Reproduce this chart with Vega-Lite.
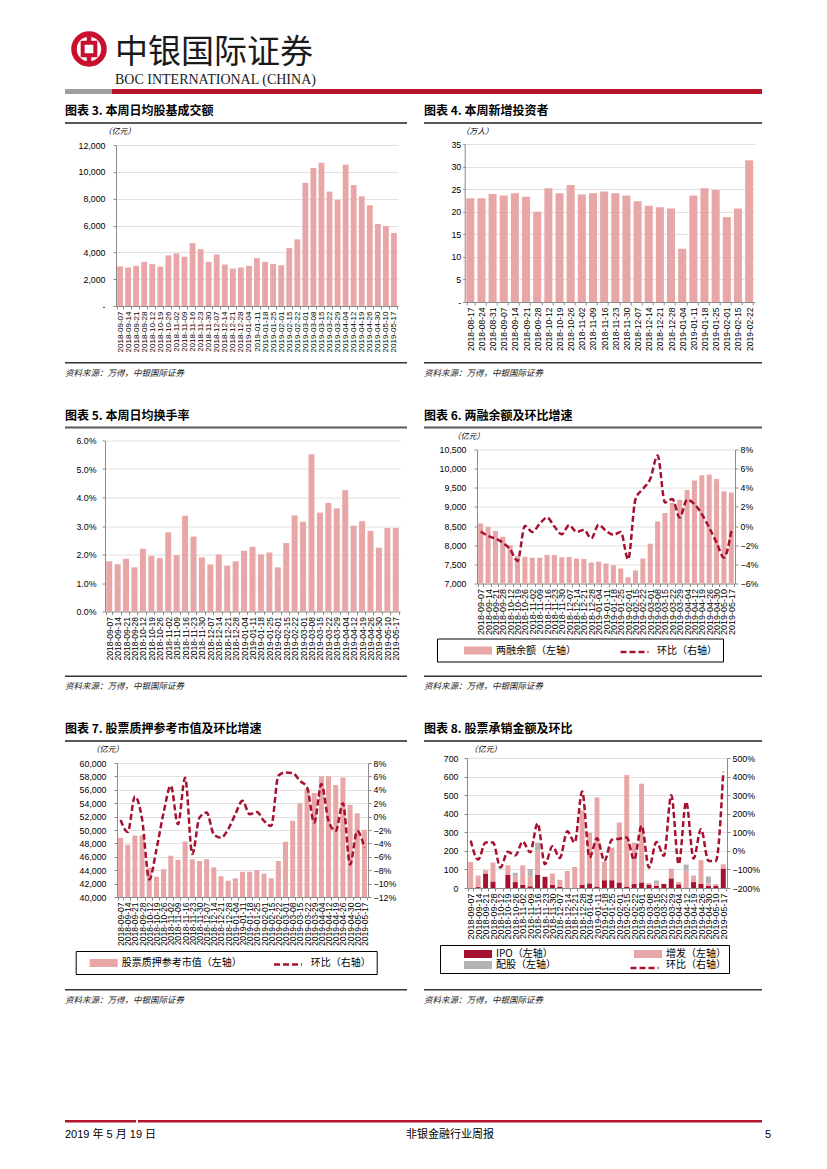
{
"$schema": "https://vega.github.io/schema/vega-lite/v6.json",
"background": "white",
"padding": {"left": 63, "top": 23, "right": 0, "bottom": 0},
"config": {
  "view": {"stroke": null},
  "font": "Liberation Sans",
  "axis": {"labelFont": "Liberation Sans", "labelColor": "#000", "domainColor": "#8c8c8c", "tickColor": "#8c8c8c", "gridColor": "#d9d9d9", "gridWidth": 0.8, "titleFont": "Noto Sans CJK SC", "titleFontWeight": "normal", "titleColor": "#000"}
},
"resolve": {"scale": {"color": "independent", "strokeDash": "independent"}, "legend": {"color": "independent", "strokeDash": "independent"}},
"datasets": {
  "sp": [{"s": 0, "e": 1}],
  "c3": [{"d":"2018-09-07","v":2950},{"d":"2018-09-14","v":2870},{"d":"2018-09-21","v":2990},{"d":"2018-09-28","v":3290},{"d":"2018-10-12","v":3120},{"d":"2018-10-19","v":2940},{"d":"2018-10-26","v":3770},{"d":"2018-11-02","v":3920},{"d":"2018-11-09","v":3670},{"d":"2018-11-16","v":4690},{"d":"2018-11-23","v":4240},{"d":"2018-11-30","v":3290},{"d":"2018-12-07","v":3840},{"d":"2018-12-14","v":3090},{"d":"2018-12-21","v":2790},{"d":"2018-12-28","v":2870},{"d":"2019-01-04","v":2990},{"d":"2019-01-11","v":3570},{"d":"2019-01-18","v":3290},{"d":"2019-01-25","v":3140},{"d":"2019-02-01","v":3040},{"d":"2019-02-15","v":4320},{"d":"2019-02-22","v":4970},{"d":"2019-03-01","v":9180},{"d":"2019-03-08","v":10280},{"d":"2019-03-15","v":10680},{"d":"2019-03-22","v":8530},{"d":"2019-03-29","v":7910},{"d":"2019-04-04","v":10530},{"d":"2019-04-12","v":9010},{"d":"2019-04-19","v":8180},{"d":"2019-04-26","v":7510},{"d":"2019-04-30","v":6110},{"d":"2019-05-10","v":5960},{"d":"2019-05-17","v":5440}],
  "c4": [{"d":"2018-08-17","v":23.0},{"d":"2018-08-24","v":23.0},{"d":"2018-08-31","v":23.9},{"d":"2018-09-07","v":23.6},{"d":"2018-09-14","v":24.1},{"d":"2018-09-21","v":23.3},{"d":"2018-09-28","v":20.0},{"d":"2018-10-12","v":25.2},{"d":"2018-10-19","v":24.1},{"d":"2018-10-26","v":25.9},{"d":"2018-11-02","v":23.8},{"d":"2018-11-09","v":24.1},{"d":"2018-11-16","v":24.5},{"d":"2018-11-23","v":24.1},{"d":"2018-11-30","v":23.6},{"d":"2018-12-07","v":22.3},{"d":"2018-12-14","v":21.3},{"d":"2018-12-21","v":21.0},{"d":"2018-12-28","v":20.7},{"d":"2019-01-04","v":11.8},{"d":"2019-01-11","v":23.6},{"d":"2019-01-18","v":25.2},{"d":"2019-01-25","v":24.8},{"d":"2019-02-01","v":18.8},{"d":"2019-02-15","v":20.7},{"d":"2019-02-22","v":31.4}],
  "c5": [{"d":"2018-09-07","v":0.0176},{"d":"2018-09-14","v":0.0166},{"d":"2018-09-21","v":0.0185},{"d":"2018-09-28","v":0.0155},{"d":"2018-10-12","v":0.022},{"d":"2018-10-19","v":0.0195},{"d":"2018-10-26","v":0.0187},{"d":"2018-11-02","v":0.0278},{"d":"2018-11-09","v":0.0198},{"d":"2018-11-16","v":0.0336},{"d":"2018-11-23","v":0.0263},{"d":"2018-11-30","v":0.019},{"d":"2018-12-07","v":0.0165},{"d":"2018-12-14","v":0.02},{"d":"2018-12-21","v":0.0161},{"d":"2018-12-28","v":0.0176},{"d":"2019-01-04","v":0.0213},{"d":"2019-01-11","v":0.0227},{"d":"2019-01-18","v":0.02},{"d":"2019-01-25","v":0.0207},{"d":"2019-02-01","v":0.0155},{"d":"2019-02-15","v":0.024},{"d":"2019-02-22","v":0.0337},{"d":"2019-03-01","v":0.0315},{"d":"2019-03-08","v":0.0552},{"d":"2019-03-15","v":0.0347},{"d":"2019-03-22","v":0.0381},{"d":"2019-03-29","v":0.0362},{"d":"2019-04-04","v":0.0426},{"d":"2019-04-12","v":0.0301},{"d":"2019-04-19","v":0.0317},{"d":"2019-04-26","v":0.0283},{"d":"2019-04-30","v":0.0224},{"d":"2019-05-10","v":0.0293},{"d":"2019-05-17","v":0.0293}],
  "c6": [{"d":"2018-09-07","bal":8570,"hb":-0.0057},{"d":"2018-09-14","bal":8480,"hb":-0.0103},{"d":"2018-09-21","bal":8370,"hb":-0.0131},{"d":"2018-09-28","bal":8220,"hb":-0.0173},{"d":"2018-10-12","bal":8000,"hb":-0.0243},{"d":"2018-10-19","bal":7710,"hb":-0.0365},{"d":"2018-10-26","bal":7700,"hb":0.0002},{"d":"2018-11-02","bal":7670,"hb":-0.0061},{"d":"2018-11-09","bal":7675,"hb":0.0023},{"d":"2018-11-16","bal":7745,"hb":0.009},{"d":"2018-11-23","bal":7745,"hb":-0.0005},{"d":"2018-11-30","bal":7685,"hb":-0.0086},{"d":"2018-12-07","bal":7690,"hb":0.0009},{"d":"2018-12-14","bal":7650,"hb":-0.0061},{"d":"2018-12-21","bal":7640,"hb":-0.004},{"d":"2018-12-28","bal":7550,"hb":-0.0128},{"d":"2019-01-04","bal":7570,"hb":0.0013},{"d":"2019-01-11","bal":7525,"hb":-0.005},{"d":"2019-01-18","bal":7475,"hb":-0.0092},{"d":"2019-01-25","bal":7395,"hb":-0.0061},{"d":"2019-02-01","bal":7160,"hb":-0.0348},{"d":"2019-02-15","bal":7340,"hb":0.0282},{"d":"2019-02-22","bal":7650,"hb":0.0387},{"d":"2019-03-01","bal":8035,"hb":0.0492},{"d":"2019-03-08","bal":8620,"hb":0.0737},{"d":"2019-03-15","bal":8840,"hb":0.0247},{"d":"2019-03-22","bal":9100,"hb":0.0282},{"d":"2019-03-29","bal":9190,"hb":0.009},{"d":"2019-04-04","bal":9440,"hb":0.0275},{"d":"2019-04-12","bal":9690,"hb":0.023},{"d":"2019-04-19","bal":9830,"hb":0.0125},{"d":"2019-04-26","bal":9850,"hb":-0.0015},{"d":"2019-04-30","bal":9730,"hb":-0.0173},{"d":"2019-05-10","bal":9410,"hb":-0.033},{"d":"2019-05-17","bal":9380,"hb":-0.005}],
  "c7": [{"d":"2018-09-07","mv":48840,"hb":-0.005},{"d":"2018-09-14","mv":47800,"hb":-0.023},{"d":"2018-09-21","mv":49190,"hb":0.030},{"d":"2018-09-28","mv":49190,"hb":-0.004},{"d":"2018-10-12","mv":44360,"hb":-0.094},{"d":"2018-10-19","mv":43040,"hb":-0.049},{"d":"2018-10-26","mv":44130,"hb":0.006},{"d":"2018-11-02","mv":46160,"hb":0.046},{"d":"2018-11-09","mv":45570,"hb":-0.0115},{"d":"2018-11-16","mv":48290,"hb":0.058},{"d":"2018-11-23","mv":45620,"hb":-0.056},{"d":"2018-11-30","mv":45370,"hb":-0.0015},{"d":"2018-12-07","mv":45620,"hb":0.006},{"d":"2018-12-14","mv":44430,"hb":-0.0265},{"d":"2018-12-21","mv":43090,"hb":-0.0315},{"d":"2018-12-28","mv":42440,"hb":-0.019},{"d":"2019-01-04","mv":42790,"hb":0.0035},{"d":"2019-01-11","mv":43780,"hb":0.0235},{"d":"2019-01-18","mv":43780,"hb":0.0035},{"d":"2019-01-25","mv":44030,"hb":0.007},{"d":"2019-02-01","mv":43480,"hb":-0.0065},{"d":"2019-02-15","mv":42790,"hb":-0.014},{"d":"2019-02-22","mv":45370,"hb":0.061},{"d":"2019-03-01","mv":48240,"hb":0.066},{"d":"2019-03-08","mv":51370,"hb":0.065},{"d":"2019-03-15","mv":54000,"hb":0.0535},{"d":"2019-03-22","mv":56130,"hb":0.0435},{"d":"2019-03-29","mv":55540,"hb":-0.009},{"d":"2019-04-04","mv":58020,"hb":0.0485},{"d":"2019-04-12","mv":58020,"hb":-0.0065},{"d":"2019-04-19","mv":56730,"hb":-0.0215},{"d":"2019-04-26","mv":57820,"hb":0.02},{"d":"2019-04-30","mv":53750,"hb":-0.0715},{"d":"2019-05-10","mv":52510,"hb":-0.0215},{"d":"2019-05-17","mv":50030,"hb":-0.0465}],
  "c8": [{"d":"2018-09-07","ipo":0,"placement":140,"rights":0,"hb":0.55},{"d":"2018-09-14","ipo":5,"placement":62,"rights":0,"hb":-0.47},{"d":"2018-09-21","ipo":78,"placement":18,"rights":0,"hb":0.45},{"d":"2018-09-28","ipo":35,"placement":102,"rights":0,"hb":0.45},{"d":"2018-10-12","ipo":0,"placement":0,"rights":0,"hb":-0.9},{"d":"2018-10-19","ipo":72,"placement":50,"rights":0,"hb":-0.05},{"d":"2018-10-26","ipo":32,"placement":28,"rights":22,"hb":-0.25},{"d":"2018-11-02","ipo":18,"placement":104,"rights":0,"hb":0.5},{"d":"2018-11-09","ipo":10,"placement":50,"rights":42,"hb":-0.08},{"d":"2018-11-16","ipo":72,"placement":128,"rights":44,"hb":1.48},{"d":"2018-11-23","ipo":60,"placement":0,"rights":0,"hb":-0.72},{"d":"2018-11-30","ipo":18,"placement":60,"rights":0,"hb":0.25},{"d":"2018-12-07","ipo":8,"placement":36,"rights":0,"hb":-0.38},{"d":"2018-12-14","ipo":0,"placement":92,"rights":0,"hb":1.05},{"d":"2018-12-21","ipo":0,"placement":113,"rights":0,"hb":0.45},{"d":"2018-12-28","ipo":18,"placement":400,"rights":0,"hb":3.2},{"d":"2019-01-04","ipo":25,"placement":272,"rights":0,"hb":-0.36},{"d":"2019-01-11","ipo":8,"placement":480,"rights":0,"hb":0.68},{"d":"2019-01-18","ipo":42,"placement":98,"rights":0,"hb":-0.54},{"d":"2019-01-25","ipo":42,"placement":175,"rights":0,"hb":0.6},{"d":"2019-02-01","ipo":30,"placement":322,"rights":0,"hb":0.65},{"d":"2019-02-15","ipo":8,"placement":600,"rights":0,"hb":0.72},{"d":"2019-02-22","ipo":22,"placement":222,"rights":0,"hb":-0.48},{"d":"2019-03-01","ipo":30,"placement":532,"rights":0,"hb":1.35},{"d":"2019-03-08","ipo":18,"placement":9,"rights":0,"hb":-0.9},{"d":"2019-03-15","ipo":12,"placement":13,"rights":15,"hb":0.48},{"d":"2019-03-22","ipo":22,"placement":0,"rights":0,"hb":-0.27},{"d":"2019-03-29","ipo":52,"placement":52,"rights":0,"hb":3.0},{"d":"2019-04-04","ipo":20,"placement":12,"rights":0,"hb":-0.72},{"d":"2019-04-12","ipo":2,"placement":91,"rights":33,"hb":2.64},{"d":"2019-04-19","ipo":32,"placement":35,"rights":0,"hb":-0.41},{"d":"2019-04-26","ipo":22,"placement":128,"rights":0,"hb":1.17},{"d":"2019-04-30","ipo":12,"placement":12,"rights":38,"hb":-0.54},{"d":"2019-05-10","ipo":12,"placement":10,"rights":0,"hb":-0.54},{"d":"2019-05-17","ipo":105,"placement":23,"rights":0,"hb":4.26}]
},
"concat": [
 {"concat": [
  {"concat": [
   {"concat": [
     {"width": 48, "height": 36, "data": {"values": [{"k": "logo"}]},
      "layer": [
        {"mark": {"type": "point", "shape": "M0,-1V1", "size": 900, "strokeWidth": 4.5, "stroke": "#c8102e", "filled": false, "opacity": 1}, "encoding": {}},
        {"mark": {"type": "point", "shape": "circle", "size": 900, "strokeWidth": 5.5, "stroke": "#c8102e", "filled": false, "opacity": 1}, "encoding": {}},
        {"mark": {"type": "point", "shape": "square", "size": 160, "strokeWidth": 4, "stroke": "#c8102e", "fill": "white", "filled": true, "opacity": 1}, "encoding": {}}
      ]},
     {"width": 260, "height": 1, "data": {"values": [{"t": ""}]},
      "title": {"text": "中银国际证券", "subtitle": "BOC INTERNATIONAL (CHINA)", "orient": "bottom", "anchor": "start", "font": "Noto Sans CJK SC", "fontSize": 33, "fontWeight": "normal", "color": "#1a1a1a", "subtitleFont": "Liberation Serif", "subtitleFontSize": 14, "subtitleColor": "#1a1a1a", "subtitlePadding": 3, "offset": 0},
      "mark": {"type": "text"}, "encoding": {"text": {"field": "t"}}}
   ], "columns": 2, "align": "none", "spacing": 0},
   {"concat": [
     {"width": 47, "height": 5, "data": {"name": "sp"}, "mark": {"type": "rect", "color": "#9e9e9e"}, "encoding": {"x": {"field": "s", "type": "quantitative", "scale": {"domain": [0, 1]}, "axis": null}, "x2": {"field": "e"}}},
     {"width": 650, "height": 5, "data": {"name": "sp"}, "mark": {"type": "rect", "color": "#b5152b"}, "encoding": {"x": {"field": "s", "type": "quantitative", "scale": {"domain": [0, 1]}, "axis": null}, "x2": {"field": "e"}}}
   ], "columns": 2, "align": "none", "bounds": "flush", "spacing": 0}
  ], "columns": 1, "align": "none", "spacing": 2},
  {"concat": [
   {"concat": [
    {"concat": [
      {"width": 342, "height": 2, "title": {"text": "图表 3. 本周日均股基成交额", "anchor": "start", "font": "Noto Sans CJK SC", "fontSize": 12, "fontWeight": "bold", "color": "#000", "offset": 4}, "data": {"name": "sp"}, "mark": {"type": "rect", "color": "#595959"}, "encoding": {"x": {"field": "s", "type": "quantitative", "scale": {"domain": [0, 1]}, "axis": null}, "x2": {"field": "e"}}},
      {"width": 338, "height": 2, "title": {"text": "图表 4. 本周新增投资者", "anchor": "start", "font": "Noto Sans CJK SC", "fontSize": 12, "fontWeight": "bold", "color": "#000", "offset": 4}, "data": {"name": "sp"}, "mark": {"type": "rect", "color": "#595959"}, "encoding": {"x": {"field": "s", "type": "quantitative", "scale": {"domain": [0, 1]}, "axis": null}, "x2": {"field": "e"}}}
    ], "columns": 2, "align": "none", "spacing": 17},
    {"concat": [
      {"concat": [
        {"width": 0.5, "height": 0.5, "data": {"name": "sp"}, "mark": {"type": "rect", "opacity": 0}, "encoding": {"x": {"field": "s", "type": "quantitative", "scale": {"domain": [0, 1]}, "axis": null}, "x2": {"field": "e"}}},
        {"concat": [
          {"width": 1, "height": 0.5, "data": {"name": "sp"}, "mark": {"type": "rect", "opacity": 0}, "encoding": {"x": {"field": "s", "type": "quantitative", "scale": {"domain": [0, 1]}, "axis": null}, "x2": {"field": "e"}}},
          {"width": 282, "height": 161, "data": {"name": "c3"},
           "mark": {"type": "bar", "color": "#e9a6a6"},
           "encoding": {
             "x": {"field": "d", "type": "ordinal", "sort": null, "scale": {"paddingInner": 0.28, "paddingOuter": 0.14}, "axis": {"title": null, "labelAngle": -90, "labelFontSize": 8, "labelPadding": 2, "labelOverlap": false, "tickBand": "extent", "tickSize": 3, "grid": false}},
             "y": {"field": "v", "type": "quantitative", "scale": {"domain": [0, 12000]}, "axis": {"values": [0, 2000, 4000, 6000, 8000, 10000, 12000], "labelExpr": "datum.value === 0 ? '-' : format(datum.value, ',')", "labelFontSize": 8.8, "tickSize": 3, "labelPadding": 8, "grid": true, "title": "（亿元）", "titleAngle": 0, "titleAlign": "center", "titleBaseline": "middle", "titleX": 3, "titleY": -14, "titleFontSize": 8, "titleFontStyle": "italic", "minExtent": 50}}
           }}
        ], "columns": 1, "align": "none", "spacing": 0, "resolve": {"scale": {"color": "independent", "strokeDash": "independent"}, "legend": {"color": "independent", "strokeDash": "independent"}}}
      ], "columns": 2, "align": "none", "spacing": 0, "resolve": {"scale": {"color": "independent", "strokeDash": "independent"}, "legend": {"color": "independent", "strokeDash": "independent"}}},
      {"concat": [
        {"width": 1, "height": 0.5, "data": {"name": "sp"}, "mark": {"type": "rect", "opacity": 0}, "encoding": {"x": {"field": "s", "type": "quantitative", "scale": {"domain": [0, 1]}, "axis": null}, "x2": {"field": "e"}}},
        {"width": 290, "height": 158, "data": {"name": "c4"},
         "mark": {"type": "bar", "color": "#e9a6a6"},
         "encoding": {
           "x": {"field": "d", "type": "ordinal", "sort": null, "scale": {"paddingInner": 0.28, "paddingOuter": 0.14}, "axis": {"title": null, "labelAngle": -90, "labelFontSize": 8.5, "labelPadding": 2, "labelOverlap": false, "tickBand": "extent", "tickSize": 3, "grid": false}},
           "y": {"field": "v", "type": "quantitative", "scale": {"domain": [0, 35]}, "axis": {"values": [0, 5, 10, 15, 20, 25, 30, 35], "labelExpr": "datum.value === 0 ? '-' : format(datum.value, 'd')", "labelFontSize": 8.8, "tickSize": 2, "labelPadding": 2, "grid": true, "title": "（万人）", "titleAngle": 0, "titleAlign": "center", "titleBaseline": "middle", "titleX": 12, "titleY": -13, "titleFontSize": 8, "titleFontStyle": "italic", "minExtent": 38.7}}
         }}
      ], "columns": 1, "align": "none", "spacing": 0, "resolve": {"scale": {"color": "independent", "strokeDash": "independent"}, "legend": {"color": "independent", "strokeDash": "independent"}}}
    ], "columns": 2, "align": "none", "spacing": 27.7, "resolve": {"scale": {"color": "independent", "strokeDash": "independent"}, "legend": {"color": "independent", "strokeDash": "independent"}}},
    {"concat": [
      {"width": 1, "height": 7.7, "data": {"name": "sp"}, "mark": {"type": "rect", "opacity": 0}, "encoding": {"x": {"field": "s", "type": "quantitative", "scale": {"domain": [0, 1]}, "axis": null}, "x2": {"field": "e"}}},
      {"concat": [
        {"width": 342, "height": 1.5, "title": {"text": "资料来源：万得，中银国际证券", "orient": "bottom", "anchor": "start", "font": "Noto Sans CJK SC", "fontSize": 8.5, "fontStyle": "italic", "fontWeight": "normal", "color": "#222", "offset": 5}, "data": {"name": "sp"}, "mark": {"type": "rect", "color": "#333"}, "encoding": {"x": {"field": "s", "type": "quantitative", "scale": {"domain": [0, 1]}, "axis": null}, "x2": {"field": "e"}}},
        {"width": 338, "height": 1.5, "title": {"text": "资料来源：万得，中银国际证券", "orient": "bottom", "anchor": "start", "font": "Noto Sans CJK SC", "fontSize": 8.5, "fontStyle": "italic", "fontWeight": "normal", "color": "#222", "offset": 5}, "data": {"name": "sp"}, "mark": {"type": "rect", "color": "#333"}, "encoding": {"x": {"field": "s", "type": "quantitative", "scale": {"domain": [0, 1]}, "axis": null}, "x2": {"field": "e"}}}
      ], "columns": 2, "align": "none", "spacing": 17}
    ], "columns": 1, "align": "none", "spacing": 0}
   ], "columns": 1, "align": "none", "spacing": 2, "resolve": {"scale": {"color": "independent", "strokeDash": "independent"}, "legend": {"color": "independent", "strokeDash": "independent"}}},

   {"concat": [
    {"concat": [
      {"width": 342, "height": 2, "title": {"text": "图表 5. 本周日均换手率", "anchor": "start", "font": "Noto Sans CJK SC", "fontSize": 12, "fontWeight": "bold", "color": "#000", "offset": 4}, "data": {"name": "sp"}, "mark": {"type": "rect", "color": "#595959"}, "encoding": {"x": {"field": "s", "type": "quantitative", "scale": {"domain": [0, 1]}, "axis": null}, "x2": {"field": "e"}}},
      {"width": 338, "height": 2, "title": {"text": "图表 6. 两融余额及环比增速", "anchor": "start", "font": "Noto Sans CJK SC", "fontSize": 12, "fontWeight": "bold", "color": "#000", "offset": 4}, "data": {"name": "sp"}, "mark": {"type": "rect", "color": "#595959"}, "encoding": {"x": {"field": "s", "type": "quantitative", "scale": {"domain": [0, 1]}, "axis": null}, "x2": {"field": "e"}}}
    ], "columns": 2, "align": "none", "spacing": 17},
    {"concat": [
      {"concat": [
        {"width": 0.5, "height": 0.5, "data": {"name": "sp"}, "mark": {"type": "rect", "opacity": 0}, "encoding": {"x": {"field": "s", "type": "quantitative", "scale": {"domain": [0, 1]}, "axis": null}, "x2": {"field": "e"}}},
        {"concat": [
          {"width": 1, "height": 5.4, "data": {"name": "sp"}, "mark": {"type": "rect", "opacity": 0}, "encoding": {"x": {"field": "s", "type": "quantitative", "scale": {"domain": [0, 1]}, "axis": null}, "x2": {"field": "e"}}},
          {"width": 295, "height": 171, "data": {"name": "c5"},
           "mark": {"type": "bar", "color": "#e9a6a6"},
           "encoding": {
             "x": {"field": "d", "type": "ordinal", "sort": null, "scale": {"paddingInner": 0.29, "paddingOuter": 0.145}, "axis": {"title": null, "labelAngle": -90, "labelFontSize": 8.5, "labelPadding": 2, "labelOverlap": false, "tickBand": "extent", "tickSize": 3, "grid": false}},
             "y": {"field": "v", "type": "quantitative", "scale": {"domain": [0, 0.06]}, "axis": {"values": [0, 0.01, 0.02, 0.03, 0.04, 0.05, 0.06], "format": ".1%", "labelFontSize": 8.8, "tickSize": 3, "labelPadding": 6, "grid": true, "title": null, "minExtent": 38.7}}
           }}
        ], "columns": 1, "align": "none", "spacing": 0, "resolve": {"scale": {"color": "independent", "strokeDash": "independent"}, "legend": {"color": "independent", "strokeDash": "independent"}}}
      ], "columns": 2, "align": "none", "spacing": 0, "resolve": {"scale": {"color": "independent", "strokeDash": "independent"}, "legend": {"color": "independent", "strokeDash": "independent"}}},
      {"concat": [
        {"width": 1, "height": 0.5, "data": {"name": "sp"}, "mark": {"type": "rect", "opacity": 0}, "encoding": {"x": {"field": "s", "type": "quantitative", "scale": {"domain": [0, 1]}, "axis": null}, "x2": {"field": "e"}}},
        {"width": 258, "height": 134, "data": {"name": "c6"},
         "encoding": {"x": {"field": "d", "type": "ordinal", "sort": null, "scale": {"paddingInner": 0.32, "paddingOuter": 0.16}, "axis": {"title": null, "labelAngle": -90, "labelFontSize": 9, "labelPadding": 2, "labelOverlap": false, "tickBand": "extent", "tickSize": 3, "grid": false}}},
         "layer": [
           {"mark": {"type": "bar", "clip": true},
            "encoding": {
              "y": {"field": "bal", "type": "quantitative", "scale": {"domain": [7000, 10500], "zero": false}, "axis": {"values": [7000, 7500, 8000, 8500, 9000, 9500, 10000, 10500], "format": ",.0f", "labelFontSize": 8.8, "tickSize": 3, "labelPadding": 8, "grid": true, "title": "（亿元）", "titleAngle": 0, "titleAlign": "center", "titleBaseline": "middle", "titleX": -9, "titleY": -13.4, "titleFontSize": 8, "titleFontStyle": "italic", "minExtent": 50.7}},
              "color": {"datum": "两融余额（左轴）", "type": "nominal", "scale": {"domain": ["两融余额（左轴）", "环比（右轴）"], "range": ["#e9a6a6", "transparent"]},
                "legend": {"orient": "none", "legendX": -40, "legendY": 189, "direction": "horizontal", "columns": 2, "gridAlign": "all", "title": "　", "titleOrient": "left", "titlePadding": 29, "titleFontSize": 10, "titleFont": "Noto Sans CJK SC", "titleColor": "transparent", "strokeColor": "#000", "padding": 6, "symbolType": "M-2.33,-0.67H2.33V0.67H-2.33Z", "symbolSize": 144, "symbolStrokeWidth": 0, "labelOffset": 12, "columnPadding": 49, "labelFont": "Noto Sans CJK SC", "labelFontSize": 10, "labelColor": "#000", "labelLimit": 300}}
            }},
           {"mark": {"type": "line", "color": "#a6112f", "strokeWidth": 2.5, "interpolate": "monotone"},
            "encoding": {
              "y": {"field": "hb", "type": "quantitative", "scale": {"domain": [-0.06, 0.08]}, "axis": {"orient": "right", "values": [-0.06, -0.04, -0.02, 0, 0.02, 0.04, 0.06, 0.08], "format": ".0%", "labelFontSize": 8.8, "tickSize": 3, "labelPadding": 2, "grid": false, "title": null}},
              "strokeDash": {"datum": "环比（右轴）", "type": "nominal", "scale": {"domain": ["环比（右轴）"], "range": [[6, 3]]},
                "legend": {"orient": "none", "legendX": 150, "legendY": 195, "title": null, "labelExpr": "''", "padding": 0, "symbolType": "M-2.33,0H2.33", "symbolSize": 144, "symbolStrokeWidth": 2.5, "symbolStrokeColor": "#a6112f"}}
            }}
         ],
         "resolve": {"scale": {"y": "independent"}}}
      ], "columns": 1, "align": "none", "spacing": 0, "resolve": {"scale": {"color": "independent", "strokeDash": "independent"}, "legend": {"color": "independent", "strokeDash": "independent"}}}
    ], "columns": 2, "align": "none", "spacing": 25, "resolve": {"scale": {"color": "independent", "strokeDash": "independent"}, "legend": {"color": "independent", "strokeDash": "independent"}}},
    {"concat": [
      {"width": 1, "height": 11, "data": {"name": "sp"}, "mark": {"type": "rect", "opacity": 0}, "encoding": {"x": {"field": "s", "type": "quantitative", "scale": {"domain": [0, 1]}, "axis": null}, "x2": {"field": "e"}}},
      {"concat": [
        {"width": 342, "height": 1.5, "title": {"text": "资料来源：万得，中银国际证券", "orient": "bottom", "anchor": "start", "font": "Noto Sans CJK SC", "fontSize": 8.5, "fontStyle": "italic", "fontWeight": "normal", "color": "#222", "offset": 5}, "data": {"name": "sp"}, "mark": {"type": "rect", "color": "#333"}, "encoding": {"x": {"field": "s", "type": "quantitative", "scale": {"domain": [0, 1]}, "axis": null}, "x2": {"field": "e"}}},
        {"width": 338, "height": 1.5, "title": {"text": "资料来源：万得，中银国际证券", "orient": "bottom", "anchor": "start", "font": "Noto Sans CJK SC", "fontSize": 8.5, "fontStyle": "italic", "fontWeight": "normal", "color": "#222", "offset": 5}, "data": {"name": "sp"}, "mark": {"type": "rect", "color": "#333"}, "encoding": {"x": {"field": "s", "type": "quantitative", "scale": {"domain": [0, 1]}, "axis": null}, "x2": {"field": "e"}}}
      ], "columns": 2, "align": "none", "spacing": 17}
    ], "columns": 1, "align": "none", "spacing": 0}
   ], "columns": 1, "align": "none", "spacing": 2, "resolve": {"scale": {"color": "independent", "strokeDash": "independent"}, "legend": {"color": "independent", "strokeDash": "independent"}}},

   {"concat": [
    {"concat": [
      {"width": 342, "height": 2, "title": {"text": "图表 7. 股票质押参考市值及环比增速", "anchor": "start", "font": "Noto Sans CJK SC", "fontSize": 12, "fontWeight": "bold", "color": "#000", "offset": 4}, "data": {"name": "sp"}, "mark": {"type": "rect", "color": "#595959"}, "encoding": {"x": {"field": "s", "type": "quantitative", "scale": {"domain": [0, 1]}, "axis": null}, "x2": {"field": "e"}}},
      {"width": 338, "height": 2, "title": {"text": "图表 8. 股票承销金额及环比", "anchor": "start", "font": "Noto Sans CJK SC", "fontSize": 12, "fontWeight": "bold", "color": "#000", "offset": 4}, "data": {"name": "sp"}, "mark": {"type": "rect", "color": "#595959"}, "encoding": {"x": {"field": "s", "type": "quantitative", "scale": {"domain": [0, 1]}, "axis": null}, "x2": {"field": "e"}}}
    ], "columns": 2, "align": "none", "spacing": 17},
    {"concat": [
      {"concat": [
        {"width": 0.5, "height": 0.5, "data": {"name": "sp"}, "mark": {"type": "rect", "opacity": 0}, "encoding": {"x": {"field": "s", "type": "quantitative", "scale": {"domain": [0, 1]}, "axis": null}, "x2": {"field": "e"}}},
        {"concat": [
          {"width": 1, "height": 0.5, "data": {"name": "sp"}, "mark": {"type": "rect", "opacity": 0}, "encoding": {"x": {"field": "s", "type": "quantitative", "scale": {"domain": [0, 1]}, "axis": null}, "x2": {"field": "e"}}},
          {"width": 251, "height": 134, "data": {"name": "c7"},
           "encoding": {"x": {"field": "d", "type": "ordinal", "sort": null, "scale": {"paddingInner": 0.3, "paddingOuter": 0.15}, "axis": {"title": null, "labelAngle": -90, "labelFontSize": 8.5, "labelPadding": 2, "labelOverlap": false, "tickBand": "extent", "tickSize": 3, "grid": false}}},
           "layer": [
             {"mark": {"type": "bar", "clip": true},
              "encoding": {
                "y": {"field": "mv", "type": "quantitative", "scale": {"domain": [40000, 60000], "zero": false}, "axis": {"values": [40000, 42000, 44000, 46000, 48000, 50000, 52000, 54000, 56000, 58000, 60000], "format": ",.0f", "labelFontSize": 8.8, "tickSize": 3, "labelPadding": 8, "grid": true, "title": "（亿元）", "titleAngle": 0, "titleAlign": "center", "titleBaseline": "middle", "titleX": -10, "titleY": -14, "titleFontSize": 8, "titleFontStyle": "italic", "minExtent": 50.3}},
                "color": {"datum": "股票质押参考市值（左轴）", "type": "nominal", "scale": {"domain": ["股票质押参考市值（左轴）", "环比（右轴）"], "range": ["#e9a6a6", "transparent"]},
                  "legend": {"orient": "none", "legendX": -41.3, "legendY": 188, "direction": "horizontal", "columns": 2, "gridAlign": "each", "title": "　", "titleOrient": "left", "titlePadding": 16, "titleFontSize": 10, "titleFont": "Noto Sans CJK SC", "titleColor": "transparent", "strokeColor": "#000", "padding": 6, "symbolType": "M-2.33,-0.67H2.33V0.67H-2.33Z", "symbolSize": 144, "symbolStrokeWidth": 0, "labelOffset": 12, "columnPadding": 37, "labelFont": "Noto Sans CJK SC", "labelFontSize": 10, "labelColor": "#000", "labelLimit": 300}}
              }},
             {"mark": {"type": "line", "color": "#a6112f", "strokeWidth": 2.5, "interpolate": "monotone"},
              "encoding": {
                "y": {"field": "hb", "type": "quantitative", "scale": {"domain": [-0.12, 0.08]}, "axis": {"orient": "right", "values": [-0.12, -0.1, -0.08, -0.06, -0.04, -0.02, 0, 0.02, 0.04, 0.06, 0.08], "format": ".0%", "labelFontSize": 8.8, "tickSize": 3, "labelPadding": 2, "grid": false, "title": null}},
                "strokeDash": {"datum": "环比（右轴）", "type": "nominal", "scale": {"domain": ["环比（右轴）"], "range": [[6, 3]]},
                  "legend": {"orient": "none", "legendX": 163.5, "legendY": 194, "title": null, "labelExpr": "''", "padding": 0, "symbolType": "M-2.33,0H2.33", "symbolSize": 144, "symbolStrokeWidth": 2.5, "symbolStrokeColor": "#a6112f"}}
              }}
           ],
           "resolve": {"scale": {"y": "independent"}}}
        ], "columns": 1, "align": "none", "spacing": 0, "resolve": {"scale": {"color": "independent", "strokeDash": "independent"}, "legend": {"color": "independent", "strokeDash": "independent"}}}
      ], "columns": 2, "align": "none", "spacing": 0, "resolve": {"scale": {"color": "independent", "strokeDash": "independent"}, "legend": {"color": "independent", "strokeDash": "independent"}}},
      {"concat": [
        {"width": 1, "height": 0.5, "data": {"name": "sp"}, "mark": {"type": "rect", "opacity": 0}, "encoding": {"x": {"field": "s", "type": "quantitative", "scale": {"domain": [0, 1]}, "axis": null}, "x2": {"field": "e"}}},
        {"width": 260, "height": 130, "data": {"name": "c8"},
         "encoding": {"x": {"field": "d", "type": "ordinal", "sort": null, "scale": {"paddingInner": 0.33, "paddingOuter": 0.165}, "axis": {"title": null, "labelAngle": -90, "labelFontSize": 9, "labelPadding": 2, "labelOverlap": false, "tickBand": "extent", "tickSize": 3, "grid": false}}},
         "layer": [
           {"transform": [{"fold": ["ipo", "placement", "rights"], "as": ["key", "value"]}],
            "mark": {"type": "bar"},
            "encoding": {
              "y": {"field": "value", "type": "quantitative", "stack": "zero", "scale": {"domain": [0, 700]}, "axis": {"values": [0, 100, 200, 300, 400, 500, 600, 700], "format": "d", "labelFontSize": 8.8, "tickSize": 3, "labelPadding": 6, "grid": true, "title": "（亿元）", "titleAngle": 0, "titleAlign": "center", "titleBaseline": "middle", "titleX": 18, "titleY": -9, "titleFontSize": 8, "titleFontStyle": "italic", "minExtent": 38}},
              "order": {"field": "key", "type": "nominal", "sort": "ascending"},
              "color": {"field": "key", "type": "nominal", "scale": {"domain": ["ipo", "placement", "rights", "hb"], "range": ["#a6112f", "#e9a6a6", "#b3b3b3", "transparent"]},
                "legend": {"orient": "none", "legendX": -27, "legendY": 187, "direction": "horizontal", "columns": 2, "gridAlign": "each", "title": "　", "titleOrient": "left", "titlePadding": 29, "titleFontSize": 10, "titleFont": "Noto Sans CJK SC", "titleColor": "transparent", "strokeColor": "#000", "padding": 3, "rowPadding": 0, "symbolType": "M-2.33,-0.67H2.33V0.67H-2.33Z", "symbolSize": 144, "symbolStrokeWidth": 0, "labelOffset": 12, "columnPadding": 78, "labelFont": "Noto Sans CJK SC", "labelFontSize": 10, "labelColor": "#000", "labelLimit": 300,
                  "labelExpr": "datum.value === 'ipo' ? 'IPO（左轴）' : datum.value === 'placement' ? '增发（左轴）' : datum.value === 'rights' ? '配股（左轴）' : '环比（右轴）'"}}
            }},
           {"mark": {"type": "line", "color": "#a6112f", "strokeWidth": 2.5, "interpolate": "monotone"},
            "encoding": {
              "y": {"field": "hb", "type": "quantitative", "scale": {"domain": [-2, 5]}, "axis": {"orient": "right", "values": [-2, -1, 0, 1, 2, 3, 4, 5], "format": ".0%", "labelFontSize": 8.8, "tickSize": 3, "labelPadding": 2, "grid": false, "title": null}},
              "strokeDash": {"datum": "环比（右轴）", "type": "nominal", "scale": {"domain": ["环比（右轴）"], "range": [[6, 3]]},
                "legend": {"orient": "none", "legendX": 170, "legendY": 202.5, "title": null, "labelExpr": "''", "padding": 0, "symbolType": "M-2.33,0H2.33", "symbolSize": 144, "symbolStrokeWidth": 2.5, "symbolStrokeColor": "#a6112f"}}
            }}
         ],
         "resolve": {"scale": {"y": "independent"}}}
      ], "columns": 1, "align": "none", "spacing": 0, "resolve": {"scale": {"color": "independent", "strokeDash": "independent"}, "legend": {"color": "independent", "strokeDash": "independent"}}}
    ], "columns": 2, "align": "none", "spacing": 33, "resolve": {"scale": {"color": "independent", "strokeDash": "independent"}, "legend": {"color": "independent", "strokeDash": "independent"}}},
    {"concat": [
      {"width": 1, "height": 12, "data": {"name": "sp"}, "mark": {"type": "rect", "opacity": 0}, "encoding": {"x": {"field": "s", "type": "quantitative", "scale": {"domain": [0, 1]}, "axis": null}, "x2": {"field": "e"}}},
      {"concat": [
        {"width": 342, "height": 1.5, "title": {"text": "资料来源：万得，中银国际证券", "orient": "bottom", "anchor": "start", "font": "Noto Sans CJK SC", "fontSize": 8.5, "fontStyle": "italic", "fontWeight": "normal", "color": "#222", "offset": 5}, "data": {"name": "sp"}, "mark": {"type": "rect", "color": "#333"}, "encoding": {"x": {"field": "s", "type": "quantitative", "scale": {"domain": [0, 1]}, "axis": null}, "x2": {"field": "e"}}},
        {"width": 338, "height": 1.5, "title": {"text": "资料来源：万得，中银国际证券", "orient": "bottom", "anchor": "start", "font": "Noto Sans CJK SC", "fontSize": 8.5, "fontStyle": "italic", "fontWeight": "normal", "color": "#222", "offset": 5}, "data": {"name": "sp"}, "mark": {"type": "rect", "color": "#333"}, "encoding": {"x": {"field": "s", "type": "quantitative", "scale": {"domain": [0, 1]}, "axis": null}, "x2": {"field": "e"}}}
      ], "columns": 2, "align": "none", "spacing": 17}
    ], "columns": 1, "align": "none", "spacing": 0}
   ], "columns": 1, "align": "none", "spacing": 2, "resolve": {"scale": {"color": "independent", "strokeDash": "independent"}, "legend": {"color": "independent", "strokeDash": "independent"}}}
  ], "columns": 1, "align": "none", "spacing": 32.5, "resolve": {"scale": {"color": "independent", "strokeDash": "independent"}, "legend": {"color": "independent", "strokeDash": "independent"}}}
 ], "columns": 1, "align": "none", "spacing": 11, "resolve": {"scale": {"color": "independent", "strokeDash": "independent"}, "legend": {"color": "independent", "strokeDash": "independent"}}},
 {"concat": [
   {"width": 71, "height": 2.5, "title": {"text": "2019 年 5 月 19 日", "orient": "bottom", "anchor": "start", "font": "Liberation Sans, Noto Sans CJK SC", "fontSize": 11, "fontWeight": "normal", "color": "#000", "offset": 6}, "data": {"name": "sp"}, "mark": {"type": "rect", "color": "#b5152b"}, "encoding": {"x": {"field": "s", "type": "quantitative", "scale": {"domain": [0, 1]}, "axis": null}, "x2": {"field": "e"}}},
   {"width": 624, "height": 2.5, "title": {"text": "非银金融行业周报", "orient": "bottom", "anchor": "middle", "font": "Noto Sans CJK SC", "fontSize": 11, "fontWeight": "normal", "color": "#000", "offset": 6}, "data": {"name": "sp"}, "mark": {"type": "rect", "color": "#b5152b"}, "encoding": {"x": {"field": "s", "type": "quantitative", "scale": {"domain": [0, 1]}, "axis": null}, "x2": {"field": "e"}}},
   {"width": 8, "height": 2.5, "title": {"text": "5", "orient": "bottom", "anchor": "middle", "font": "Liberation Sans", "fontSize": 11, "fontWeight": "normal", "color": "#000", "offset": 6}, "data": {"name": "sp"}, "mark": {"type": "rect", "color": "#b5152b", "opacity": 0}, "encoding": {"x": {"field": "s", "type": "quantitative", "scale": {"domain": [0, 1]}, "axis": null}, "x2": {"field": "e"}}}
 ], "columns": 3, "align": "none", "bounds": "flush", "spacing": 2}
],
"columns": 1, "align": "none", "spacing": 116
}
